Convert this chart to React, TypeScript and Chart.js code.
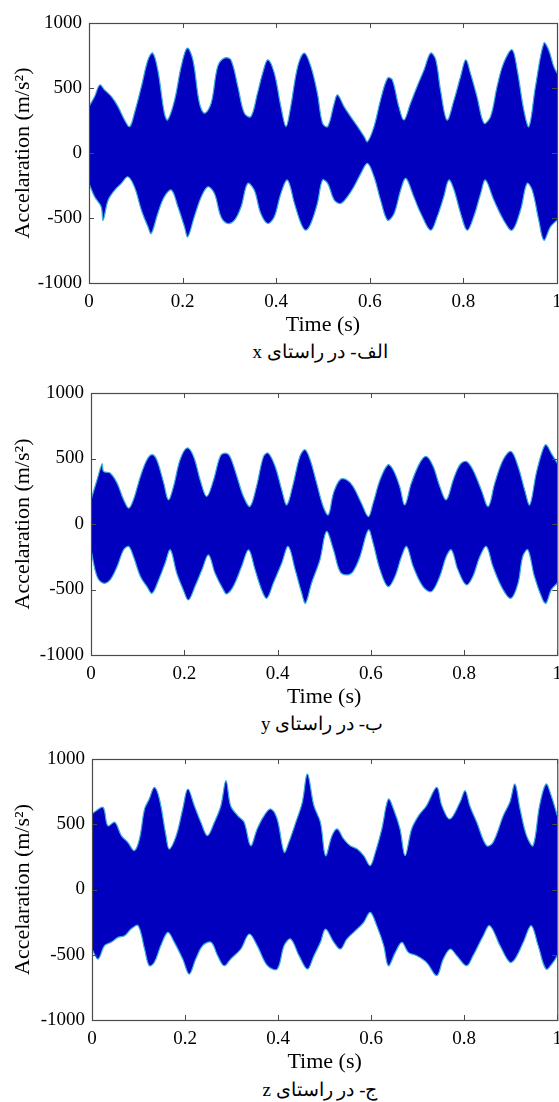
import React, { useEffect, useRef } from 'react';
import { Chart, registerables } from 'chart.js';

Chart.register(...registerables);

// ---------- tick labels / texts ----------
const xTickValues = [0, 0.2, 0.4, 0.6, 0.8, 1];
const xTickLabels = ['0', '0.2', '0.4', '0.6', '0.8', '1'];
const yTickValues = [-1000, -500, 0, 500, 1000];
const yTickLabels = ['-1000', '-500', '0', '500', '1000'];
const xTitle = 'Time (s)';
const yTitle = 'Accelaration (m/s²)';
const captions = ['الف- در راستای x', 'ب- در راستای y', 'ج- در راستای z'];

// ---------- envelopes of the signals: [time (s), acceleration (m/s²)] ----------
const xUpper: [number, number][] = [
  [0, 357], [0.012, 434], [0.023, 524], [0.033, 486], [0.048, 434], [0.062, 357], [0.076, 254], [0.087, 203],
  [0.097, 306], [0.112, 512], [0.126, 717], [0.136, 769], [0.147, 640], [0.161, 306], [0.168, 254], [0.183, 409],
  [0.197, 666], [0.21, 807], [0.222, 717], [0.236, 383], [0.247, 306], [0.261, 383], [0.275, 666], [0.289, 730],
  [0.303, 717], [0.318, 512], [0.332, 306], [0.346, 280], [0.36, 460], [0.371, 614], [0.382, 717], [0.396, 614],
  [0.41, 357], [0.421, 203], [0.431, 357], [0.446, 666], [0.46, 769], [0.474, 666], [0.488, 460], [0.499, 229],
  [0.51, 203], [0.524, 383], [0.531, 447], [0.545, 357], [0.559, 280], [0.574, 203], [0.588, 126], [0.595, 87],
  [0.609, 203], [0.623, 409], [0.638, 576], [0.648, 563], [0.662, 357], [0.673, 254], [0.687, 383], [0.701, 512],
  [0.716, 640], [0.73, 769], [0.741, 717], [0.751, 486], [0.765, 254], [0.78, 409], [0.794, 589], [0.805, 717],
  [0.815, 614], [0.829, 434], [0.844, 229], [0.858, 280], [0.872, 512], [0.886, 692], [0.904, 794], [0.915, 640],
  [0.929, 332], [0.94, 203], [0.954, 512], [0.972, 846], [0.982, 794], [0.993, 666], [1, 614],
];
const xLower: [number, number][] = [
  [0, -234], [0.012, -337], [0.026, -414], [0.03, -517], [0.041, -362], [0.055, -285], [0.069, -234], [0.083, -183],
  [0.097, -260], [0.112, -440], [0.126, -568], [0.133, -620], [0.147, -465], [0.161, -337], [0.176, -285], [0.19, -414],
  [0.204, -568], [0.211, -645], [0.225, -491], [0.24, -337], [0.254, -260], [0.268, -311], [0.282, -491], [0.296, -542],
  [0.311, -517], [0.325, -414], [0.339, -234], [0.353, -285], [0.367, -465], [0.382, -542], [0.396, -491], [0.41, -311],
  [0.424, -208], [0.439, -388], [0.453, -542], [0.463, -594], [0.474, -542], [0.488, -388], [0.499, -208], [0.51, -234],
  [0.524, -362], [0.538, -388], [0.552, -337], [0.566, -260], [0.581, -157], [0.595, -80], [0.609, -183], [0.623, -362],
  [0.638, -517], [0.652, -465], [0.666, -285], [0.677, -195], [0.694, -337], [0.709, -465], [0.73, -594], [0.744, -491],
  [0.758, -337], [0.769, -208], [0.78, -285], [0.794, -465], [0.808, -594], [0.822, -491], [0.837, -311], [0.847, -208],
  [0.865, -362], [0.886, -517], [0.904, -594], [0.922, -440], [0.936, -234], [0.947, -285], [0.961, -517], [0.972, -671],
  [0.986, -568], [1, -517],
];

const yUpper: [number, number][] = [
  [0, 185], [0.013, 338], [0.024, 459], [0.027, 401], [0.041, 389], [0.056, 312], [0.07, 185], [0.081, 121],
  [0.091, 185], [0.106, 363], [0.12, 490], [0.131, 529], [0.141, 490], [0.156, 312], [0.166, 185], [0.177, 287],
  [0.191, 490], [0.206, 580], [0.22, 516], [0.234, 338], [0.248, 210], [0.263, 338], [0.277, 516], [0.288, 541],
  [0.298, 516], [0.313, 363], [0.327, 210], [0.341, 134], [0.355, 287], [0.37, 516], [0.38, 541], [0.395, 439],
  [0.409, 261], [0.42, 146], [0.434, 312], [0.448, 516], [0.459, 567], [0.47, 490], [0.484, 312], [0.498, 134],
  [0.509, 70], [0.52, 236], [0.534, 338], [0.548, 338], [0.562, 287], [0.58, 159], [0.595, 57], [0.605, 159],
  [0.62, 338], [0.637, 452], [0.648, 414], [0.662, 287], [0.673, 146], [0.687, 312], [0.705, 465], [0.719, 516],
  [0.734, 439], [0.748, 287], [0.762, 185], [0.777, 338], [0.791, 452], [0.805, 478], [0.819, 414], [0.837, 261],
  [0.852, 134], [0.866, 312], [0.884, 490], [0.901, 554], [0.916, 439], [0.93, 261], [0.941, 146], [0.955, 389],
  [0.969, 567], [0.976, 605], [0.987, 541], [1, 465],
];
const yLower: [number, number][] = [
  [0, -197], [0.013, -401], [0.027, -452], [0.041, -427], [0.056, -325], [0.07, -197], [0.081, -172], [0.091, -248],
  [0.106, -401], [0.12, -478], [0.131, -529], [0.145, -427], [0.159, -299], [0.17, -197], [0.184, -376], [0.198, -503],
  [0.209, -580], [0.223, -478], [0.238, -350], [0.252, -236], [0.266, -376], [0.284, -503], [0.291, -534], [0.305, -478],
  [0.323, -325], [0.338, -197], [0.352, -350], [0.366, -503], [0.377, -567], [0.391, -452], [0.409, -299], [0.423, -172],
  [0.438, -350], [0.452, -529], [0.46, -605], [0.473, -452], [0.491, -274], [0.505, -57], [0.52, -197], [0.534, -363],
  [0.548, -389], [0.562, -363], [0.577, -248], [0.595, -45], [0.605, -146], [0.62, -350], [0.637, -478], [0.652, -401],
  [0.666, -248], [0.677, -172], [0.691, -325], [0.712, -478], [0.73, -516], [0.748, -401], [0.762, -248], [0.773, -197],
  [0.787, -350], [0.805, -465], [0.819, -401], [0.834, -248], [0.848, -172], [0.862, -325], [0.884, -503], [0.901, -567],
  [0.916, -452], [0.926, -248], [0.937, -197], [0.951, -401], [0.969, -580], [0.976, -605], [0.987, -503], [1, -452],
];

const zUpper: [number, number][] = [
  [0, 578], [0.009, 604], [0.024, 629], [0.034, 489], [0.049, 515], [0.063, 413], [0.077, 361], [0.091, 298],
  [0.102, 387], [0.113, 617], [0.123, 693], [0.134, 783], [0.145, 693], [0.159, 413], [0.166, 310], [0.181, 413],
  [0.195, 617], [0.206, 770], [0.22, 642], [0.234, 515], [0.248, 413], [0.263, 515], [0.277, 642], [0.288, 834],
  [0.298, 642], [0.313, 566], [0.327, 515], [0.341, 336], [0.355, 464], [0.37, 566], [0.384, 617], [0.398, 540],
  [0.413, 285], [0.423, 361], [0.438, 515], [0.452, 668], [0.463, 885], [0.477, 642], [0.491, 515], [0.502, 259],
  [0.516, 413], [0.527, 464], [0.541, 387], [0.555, 336], [0.57, 310], [0.584, 259], [0.598, 183], [0.609, 285],
  [0.623, 464], [0.637, 693], [0.648, 617], [0.662, 464], [0.673, 259], [0.687, 464], [0.702, 566], [0.719, 642],
  [0.741, 783], [0.752, 642], [0.769, 540], [0.791, 668], [0.802, 757], [0.812, 642], [0.827, 515], [0.848, 336],
  [0.862, 361], [0.884, 566], [0.898, 668], [0.909, 808], [0.92, 617], [0.934, 413], [0.948, 336], [0.962, 642],
  [0.976, 808], [0.987, 719], [1, 566],
];
const zLower: [number, number][] = [
  [0, -456], [0.013, -533], [0.027, -430], [0.041, -405], [0.056, -367], [0.07, -354], [0.084, -303], [0.099, -277],
  [0.113, -456], [0.123, -584], [0.134, -558], [0.148, -430], [0.163, -328], [0.177, -405], [0.195, -533], [0.209, -648],
  [0.223, -533], [0.238, -430], [0.256, -405], [0.27, -507], [0.284, -584], [0.298, -533], [0.32, -456], [0.338, -341],
  [0.355, -430], [0.377, -584], [0.398, -610], [0.413, -430], [0.427, -379], [0.445, -507], [0.463, -610], [0.477, -507],
  [0.491, -405], [0.502, -303], [0.52, -405], [0.534, -456], [0.548, -379], [0.57, -303], [0.584, -252], [0.598, -175],
  [0.612, -277], [0.627, -430], [0.637, -584], [0.652, -482], [0.666, -405], [0.68, -482], [0.698, -507], [0.719, -558],
  [0.741, -660], [0.755, -533], [0.77, -456], [0.784, -507], [0.805, -584], [0.819, -507], [0.841, -354], [0.855, -277],
  [0.877, -430], [0.898, -558], [0.909, -533], [0.927, -405], [0.944, -277], [0.959, -430], [0.976, -610], [0.991, -558],
  [1, -507],
];

// ---------- styles ----------
const FILL = 'rgb(0, 0, 190)';
const EDGE = 'rgb(60, 170, 220)';
const FRAME = '#4a4a4a';
const SERIF = "'Liberation Serif', 'Times New Roman', serif";
const CANVAS_W = 570;

const frameTicks = {
  id: 'frameTicks',
  afterDatasetsDraw(chart: any) {
    const { ctx, chartArea: a, scales } = chart;
    const xs = scales.x;
    const ys = scales.y;
    ctx.save();
    ctx.strokeStyle = FRAME;
    ctx.lineWidth = 1;
    ctx.beginPath();
    for (const t of xs.ticks) {
      const px = Math.round(xs.getPixelForValue(t.value)) + 0.5;
      ctx.moveTo(px, a.bottom);
      ctx.lineTo(px, a.bottom - 5);
      ctx.moveTo(px, a.top);
      ctx.lineTo(px, a.top + 5);
    }
    for (const t of ys.ticks) {
      const py = Math.round(ys.getPixelForValue(t.value)) + 0.5;
      ctx.moveTo(a.left, py);
      ctx.lineTo(a.left + 5, py);
      ctx.moveTo(a.right, py);
      ctx.lineTo(a.right - 5, py);
    }
    ctx.stroke();
    ctx.lineWidth = 1.2;
    ctx.strokeRect(a.left + 0.5, a.top + 0.5, a.right - a.left, a.bottom - a.top);
    ctx.restore();
  },
};

type PanelProps = {
  top: number;
  height: number;
  axisWidth: number;
  padTop: number;
  padRight: number;
  xAxisHeight: number;
  upper: [number, number][];
  lower: [number, number][];
  caption: string;
  captionTop: number;
  captionLeft: number;
};

function Panel(p: PanelProps) {
  const ref = useRef<HTMLCanvasElement | null>(null);
  useEffect(() => {
    if (!ref.current) return;
    const chart = new Chart(ref.current, {
      type: 'line',
      data: {
        datasets: [
          {
            data: p.lower.map(([x, y]) => ({ x, y })),
            fill: false,
            borderColor: EDGE,
            borderWidth: 1.2,
            pointRadius: 0,
            tension: 0.35,
          },
          {
            data: p.upper.map(([x, y]) => ({ x, y })),
            fill: '-1',
            backgroundColor: FILL,
            borderColor: EDGE,
            borderWidth: 1.2,
            pointRadius: 0,
            tension: 0.35,
          },
        ],
      },
      options: {
        animation: false,
        responsive: false,
        layout: { padding: { top: p.padTop, right: p.padRight, left: 0, bottom: 0 } },
        plugins: { legend: { display: false }, tooltip: { enabled: false } },
        scales: {
          x: {
            type: 'linear',
            min: 0,
            max: 1,
            grid: { display: false, drawTicks: false },
            border: { display: false },
            afterBuildTicks: (s: any) => {
              s.ticks = xTickValues.map((v) => ({ value: v }));
            },
            afterFit: (s: any) => {
              s.height = p.xAxisHeight;
            },
            ticks: {
              padding: 8,
              maxRotation: 0,
              autoSkip: false,
              color: '#000',
              font: { family: SERIF, size: 19 },
              callback: (_v: any, i: number) => xTickLabels[i],
            },
            title: {
              display: true,
              text: xTitle,
              color: '#000',
              font: { family: SERIF, size: 22 },
              padding: { top: 0, bottom: 2 },
            },
          },
          y: {
            type: 'linear',
            min: -1000,
            max: 1000,
            grid: { display: false, drawTicks: false },
            border: { display: false },
            afterBuildTicks: (s: any) => {
              s.ticks = yTickValues.map((v) => ({ value: v }));
            },
            afterFit: (s: any) => {
              s.width = p.axisWidth;
            },
            ticks: {
              padding: 7,
              autoSkip: false,
              color: '#000',
              font: { family: SERIF, size: 19 },
              callback: (_v: any, i: number) => yTickLabels[i],
            },
            title: {
              display: true,
              text: yTitle,
              color: '#000',
              font: { family: SERIF, size: 22 },
              padding: { top: 10, bottom: 0 },
            },
          },
        },
      },
      plugins: [frameTicks],
    });
    return () => chart.destroy();
  }, []);

  return (
    <>
      <canvas
        ref={ref}
        width={CANVAS_W}
        height={p.height}
        style={{ position: 'absolute', left: 0, top: p.top, width: CANVAS_W, height: p.height }}
      />
      <div
        dir="rtl"
        style={{
          position: 'absolute',
          top: p.captionTop,
          left: p.captionLeft - 150,
          width: 300,
          textAlign: 'center',
          fontFamily: SERIF,
          fontSize: 19,
          lineHeight: '24px',
          color: '#000',
          whiteSpace: 'nowrap',
        }}
      >
        {p.caption}
      </div>
    </>
  );
}

export default function App() {
  return (
    <div
      style={{
        position: 'absolute',
        left: 0,
        top: 0,
        width: 559,
        height: 1102,
        overflow: 'hidden',
        background: '#fff',
      }}
    >
      <Panel top={0} height={340} axisWidth={89} padTop={23} padRight={13} xAxisHeight={57}
        upper={xUpper} lower={xLower} caption={captions[0]} captionTop={340} captionLeft={320} />
      <Panel top={370} height={342} axisWidth={91} padTop={23} padRight={12} xAxisHeight={57}
        upper={yUpper} lower={yLower} caption={captions[1]} captionTop={712} captionLeft={322} />
      <Panel top={736} height={341} axisWidth={92} padTop={23} padRight={12} xAxisHeight={57}
        upper={zUpper} lower={zLower} caption={captions[2]} captionTop={1078} captionLeft={320} />
    </div>
  );
}
